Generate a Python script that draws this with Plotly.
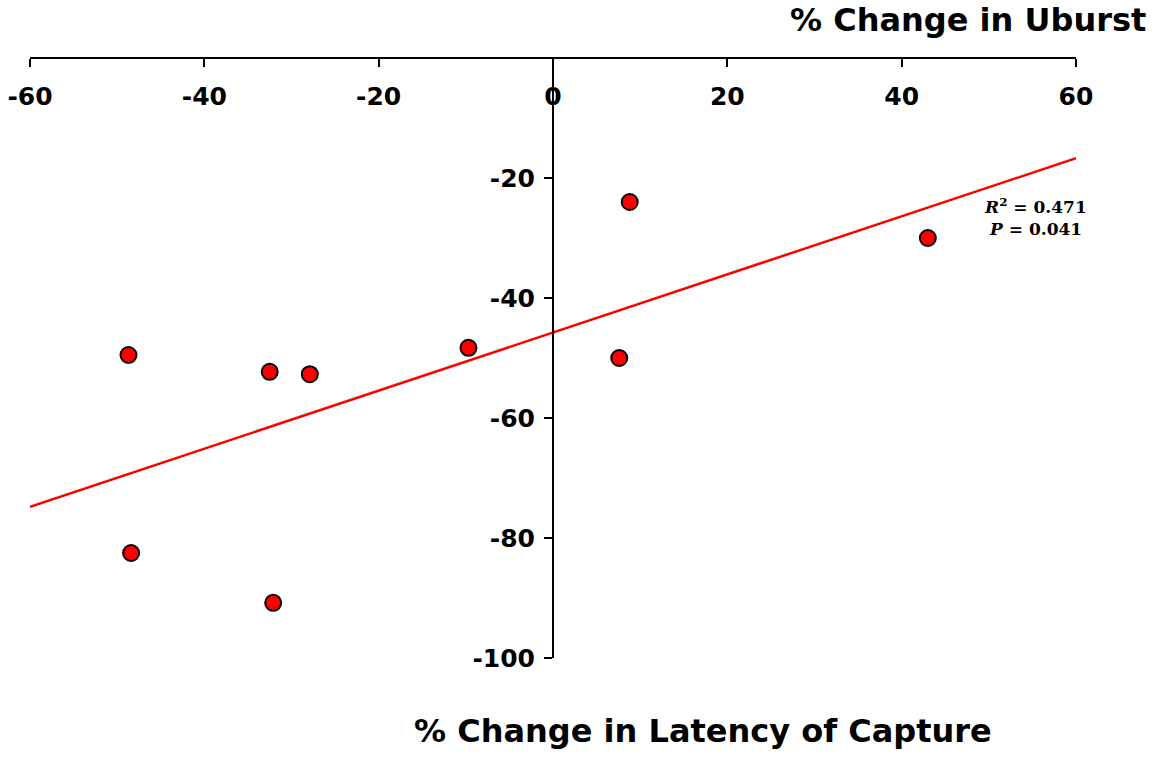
import plotly.graph_objects as go

# Data
latency_change = [-48.7, -48.4, -32.5, -32.1, -27.9, -9.7, 7.6, 8.8, 43.0]
uburst_change = [-49.5, -82.5, -52.3, -90.8, -52.7, -48.3, -50.0, -24.0, -30.0]

fit_x = [-60, 60]
fit_y = [-74.8, -16.7]

x_ticks = [-60, -40, -20, 0, 20, 40, 60]
x_tick_labels = ["-60", "-40", "-20", "0", "20", "40", "60"]
y_ticks = [-20, -40, -60, -80, -100]
y_tick_labels = ["-20", "-40", "-60", "-80", "-100"]

r2_text = "<i>R</i><sup>2</sup> = 0.471"
p_text = "<i>P</i> = 0.041"

fig = go.Figure()
fig.add_trace(go.Scatter(
    x=fit_x, y=fit_y, mode="lines",
    line=dict(color="#ff0000", width=2.5),
    showlegend=False, hoverinfo="skip",
))
fig.add_trace(go.Scatter(
    x=latency_change, y=uburst_change, mode="markers",
    marker=dict(color="#ff0000", size=16, line=dict(color="black", width=2)),
    showlegend=False,
))

tick_font = dict(family="DejaVu Sans", size=25, color="black", weight="bold")
title_font = dict(family="DejaVu Sans", size=32, color="black", weight="bold")

fig.update_layout(
    width=1159, height=761,
    margin=dict(l=30, r=83, t=58, b=103),
    paper_bgcolor="white", plot_bgcolor="white",
    xaxis=dict(
        range=[-60, 60], tickvals=x_ticks, ticktext=x_tick_labels,
        anchor="free", position=1, side="bottom", automargin=False,
        showline=True, linecolor="black", linewidth=2,
        ticks="outside", ticklen=8, tickwidth=2, tickcolor="black",
        showgrid=False, zeroline=False,
        tickfont=tick_font, ticklabelstandoff=8,
    ),
    yaxis=dict(
        range=[-100, 0], tickvals=y_ticks, ticktext=y_tick_labels,
        anchor="free", position=0.5, side="left", automargin=False,
        showline=True, linecolor="black", linewidth=2,
        ticks="outside", ticklen=8, tickwidth=2, tickcolor="black",
        showgrid=False, zeroline=False,
        tickfont=tick_font, ticklabelstandoff=4,
    ),
    annotations=[
        dict(text="% Change in Uburst", xref="paper", yref="paper",
             x=1.0689, y=1.0, xanchor="right", yanchor="bottom", yshift=17,
             showarrow=False, font=title_font),
        dict(text="% Change in Latency of Capture", xref="paper", yref="paper",
             x=0.643, y=0, xanchor="center", yanchor="middle", yshift=-73,
             showarrow=False, font=title_font),
        dict(text=r2_text, x=55.4, y=-24.7, xref="x", yref="y", showarrow=False,
             font=dict(family="DejaVu Serif", size=17, color="black", weight="bold")),
        dict(text=p_text, x=55.4, y=-28.5, xref="x", yref="y", showarrow=False,
             font=dict(family="DejaVu Serif", size=17, color="black", weight="bold")),
    ],
)

fig.write_html("out.html")
